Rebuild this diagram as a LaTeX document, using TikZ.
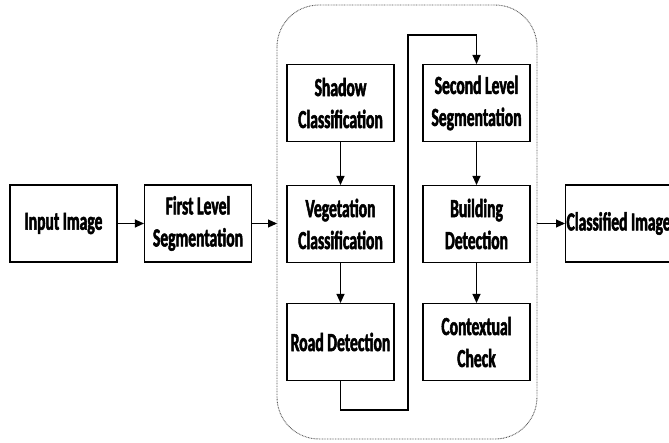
\documentclass[tikz,border=0pt]{standalone}
\usepackage{fontspec}
\newfontfamily\boxfont[FakeStretch=0.6,BoldFeatures={FakeBold=2}]{Carlito}
\usetikzlibrary{arrows.meta}
\begin{document}
\begin{tikzpicture}[x=1pt,y=-1pt,
  blk/.style={draw,line width=1.1pt,rectangle,minimum width=107pt,minimum height=77pt,
    align=center,inner sep=2pt,font=\boxfont\fontsize{26}{32}\selectfont\bfseries},
  arr/.style={line width=1.1pt,-{Triangle[length=9pt,width=8pt]}},
  wire/.style={line width=1.1pt}]
\useasboundingbox (0,0) rectangle (669,443);
\draw[black!65,line width=0.9pt,dash pattern=on 0.8pt off 0.8pt,rounded corners=42pt]
  (277,5) rectangle (537,439);
\node[blk] (in) at (63.5,223.5) {Input Image};
\node[blk] (fls) at (198,223.5) {First Level\\Segmentation};
\node[blk] (sh) at (340.5,103) {Shadow\\Classification};
\node[blk] (veg) at (340.5,224) {Vegetation\\Classification};
\node[blk] (road) at (340.5,342) {Road Detection};
\node[blk] (sls) at (476.5,103) {Second Level\\Segmentation};
\node[blk] (bld) at (476.5,224) {Building\\Detection};
\node[blk] (ctx) at (476.5,342) {Contextual\\Check};
\node[blk,anchor=west,inner xsep=1pt] (cls) at (565,223.5) {\makebox[112pt][l]{Classified Image}};
\coordinate (cin) at (277,223.5);
\coordinate (cout) at (537,223.5);
\coordinate (r1) at (340.5,410);
\coordinate (r2) at (408,410);
\coordinate (r3) at (408,35);
\coordinate (r4) at (476.5,35);
\draw[arr] (in) -- (fls);
\draw[arr] (fls) -- (cin);
\draw[arr] (cout) -- (cls);
\draw[arr] (sh) -- (veg);
\draw[arr] (veg) -- (road);
\draw[arr] (sls) -- (bld);
\draw[arr] (bld) -- (ctx);
\draw[wire,-{Triangle[length=9pt,width=8pt]}] (road.south) -- (r1) -- (r2) -- (r3) -- (r4) -- (sls.north);
\end{tikzpicture}
\end{document}
